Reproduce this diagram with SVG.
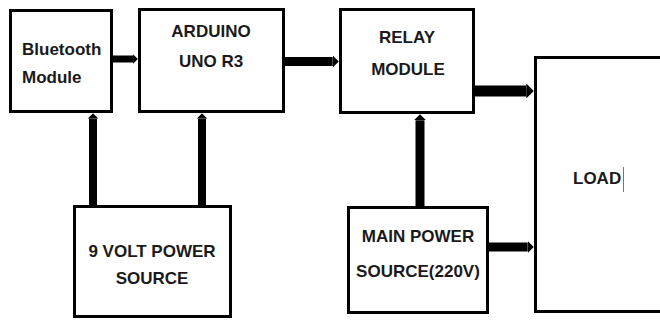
<svg xmlns="http://www.w3.org/2000/svg" width="660" height="320" viewBox="0 0 660 320">
<style>
.box{fill:#fff;stroke:#000;stroke-width:3}
.lbl{font-family:"Liberation Sans",Arial,sans-serif;font-weight:bold;font-size:17px;fill:#1a1a1a}
.mid{text-anchor:middle}
.con{stroke:#000;fill:none;marker-end:url(#ah)}
</style>
<defs>
<marker id="ah" viewBox="0 0 4 8" refX="0" refY="4" markerWidth="0.7" markerHeight="1.35" markerUnits="strokeWidth" orient="auto">
<path d="M0,0 L4,4 L0,8 z" fill="#000"/>
</marker>
</defs>
<rect width="660" height="320" fill="#fff"/>
<g id="connectors">
<line class="con" x1="113" y1="59" x2="133.1" y2="59" stroke-width="7"/>
<line class="con" x1="285" y1="61.5" x2="332.7" y2="61.5" stroke-width="9"/>
<line class="con" x1="475" y1="91" x2="526.3" y2="91" stroke-width="11"/>
<line class="con" x1="489" y1="247" x2="527.7" y2="247" stroke-width="9"/>
<line class="con" x1="93" y1="205" x2="93" y2="118.6" stroke-width="8"/>
<line class="con" x1="202" y1="205" x2="202" y2="118.6" stroke-width="8"/>
<line class="con" x1="420" y1="206" x2="420" y2="120.3" stroke-width="9"/>
</g>
<g id="bluetooth">
<rect class="box" x="10.5" y="10.5" width="101" height="101"/>
<text class="lbl" x="22" y="55">Bluetooth</text>
<text class="lbl" x="22" y="83">Module</text>
</g>
<g id="arduino">
<rect class="box" x="139.5" y="9.5" width="144" height="102"/>
<text class="lbl mid" x="211" y="37">ARDUINO</text>
<text class="lbl mid" x="211" y="67">UNO R3</text>
</g>
<g id="relay">
<rect class="box" x="340.5" y="9.5" width="133" height="103"/>
<text class="lbl mid" x="407" y="43">RELAY</text>
<text class="lbl mid" x="408" y="75">MODULE</text>
</g>
<g id="power9v">
<rect class="box" x="74.5" y="206.5" width="156" height="110"/>
<text class="lbl mid" x="152" y="257">9 VOLT POWER</text>
<text class="lbl mid" x="152" y="284">SOURCE</text>
</g>
<g id="mainpower">
<rect class="box" x="348.5" y="207.5" width="139" height="105"/>
<text class="lbl mid" x="418" y="242">MAIN POWER</text>
<text class="lbl mid" x="418" y="277">SOURCE(220V)</text>
</g>
<g id="load">
<rect class="box" x="535.5" y="57.5" width="140" height="254"/>
<text class="lbl" x="573" y="184">LOAD</text>
<line x1="623.5" y1="167" x2="623.5" y2="192" stroke="#777" stroke-width="1"/>
</g>
</svg>
